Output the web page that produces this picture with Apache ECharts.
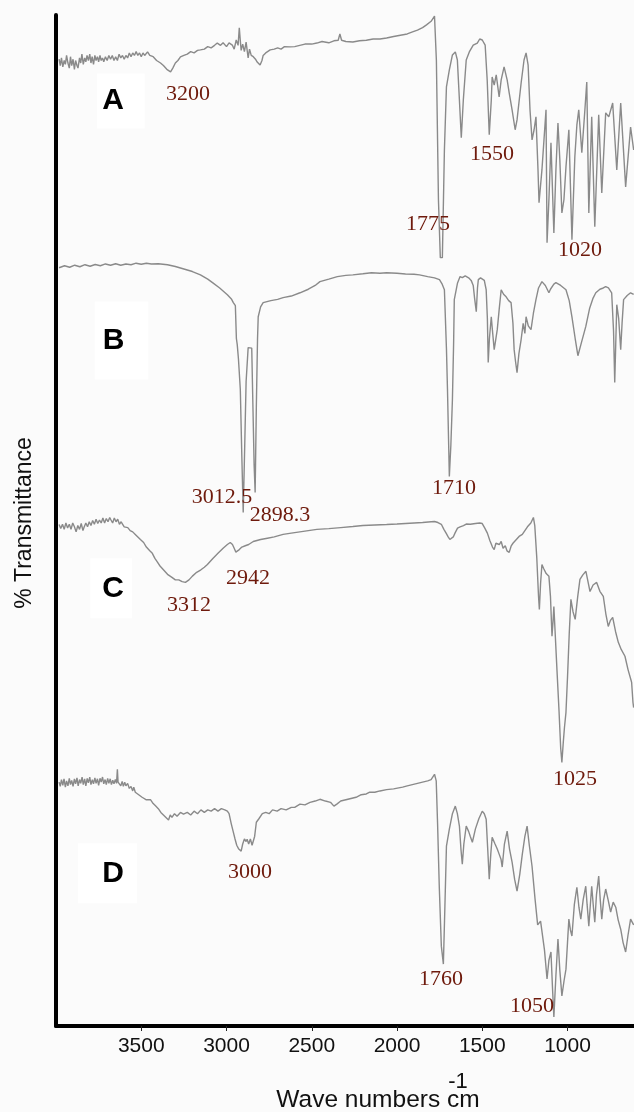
<!DOCTYPE html>
<html>
<head>
<meta charset="utf-8">
<script src="https://cdn.jsdelivr.net/npm/echarts@6/dist/echarts.min.js"></script>
<style>
html,body{margin:0;padding:0;background:#fbfbfb;}
#chart{width:634px;height:1112px;}
</style>
</head>
<body>
<div id="chart"></div>
<script>
// ---- data: [wavenumber (cm-1), transmittance within panel (0-100)] ----
const wavenumberTicks = [1000, 1500, 2000, 2500, 3000, 3500];
const panelNames = ['A', 'B', 'C', 'D'];
const panelOffsets = [75, 50, 25, 0];

const spectrumA = [[3982,82.5],[3975,80],[3968,83],[3960,79.5],[3952,82],[3945,80.5],[3938,84],[3930,81],[3922,79],[3915,83.5],[3908,80],[3900,82.5],[3892,78.5],[3885,82],[3877,80],[3871,79],[3862,83],[3855,81],[3848,84.5],[3840,80.5],[3832,83],[3825,81.5],[3818,84],[3810,82],[3802,84.5],[3795,81],[3788,83.5],[3780,80.5],[3772,84],[3765,82],[3757,83.5],[3750,81.5],[3742,84],[3735,82],[3727,83],[3720,81.5],[3710,83.5],[3700,82],[3690,84],[3680,82.5],[3670,84],[3660,82],[3650,83.5],[3640,82],[3630,84.5],[3620,83],[3610,84],[3600,82.5],[3590,84],[3580,83],[3570,85],[3560,83.5],[3550,85],[3540,84],[3530,85.5],[3520,84],[3510,85],[3500,83.5],[3490,85],[3480,84],[3463,85.4],[3450,84],[3430,83.5],[3410,82],[3387,81],[3370,80],[3350,78.5],[3328,77.5],[3315,79],[3300,81],[3285,82],[3270,83.4],[3250,84],[3230,84.5],[3210,85.5],[3190,85],[3170,86],[3153,86.2],[3130,86.5],[3110,87.5],[3090,87],[3070,88],[3054,88.9],[3035,88],[3020,89],[3000,87.5],[2985,89],[2966,88.1],[2955,86.5],[2943,90.1],[2932,88],[2925,94.9],[2918,89],[2914,86],[2905,88.5],[2895,85.5],[2885,89.3],[2873,83],[2865,86.5],[2855,84],[2843,83.5],[2830,82.5],[2820,81.4],[2803,80.2],[2792,82],[2785,84],[2770,85],[2744,86.2],[2720,86.5],[2700,87],[2680,86.5],[2660,87.5],[2627,87.4],[2600,87.5],[2570,88],[2540,88.5],[2500,88.5],[2470,88.9],[2440,89.5],[2400,89],[2370,89.8],[2345,90],[2335,92.5],[2325,90],[2300,89.5],[2259,89.3],[2220,89.8],[2180,90],[2140,90.5],[2100,90.5],[2061,90.9],[2020,91.5],[1980,92],[1940,92.5],[1909,93.3],[1880,94],[1850,95],[1827,96.1],[1800,97.5],[1780,99.6],[1769,82],[1757,27],[1746,4],[1734,4],[1722,46.6],[1710,71.6],[1693,78.3],[1675,84.2],[1658,85.4],[1646,82.2],[1634,66.4],[1623,51.4],[1611,66.4],[1594,82.2],[1576,85.4],[1553,88.1],[1529,88.9],[1515,90.5],[1500,90.1],[1483,88.1],[1471,74.3],[1459,52.6],[1447,66.4],[1442,75.5],[1430,72.3],[1418,76.3],[1401,67.6],[1389,74.3],[1372,79.5],[1354,74.3],[1342,69.2],[1325,62.5],[1307,54.6],[1296,58.5],[1272,73.1],[1255,82.2],[1243,85],[1231,80.2],[1220,62.5],[1208,50.6],[1196,54.6],[1185,59.7],[1173,38.7],[1167,25.7],[1150,38.7],[1138,50.6],[1126,62.5],[1120,9.9],[1109,27],[1097,49.4],[1080,13.8],[1068,38.7],[1056,57.3],[1045,42.7],[1033,21.7],[1021,26.9],[1009,39.9],[992,54.6],[974,11.1],[957,43.9],[945,56.5],[934,62.5],[916,45.5],[898,62.5],[887,73.5],[875,21.7],[858,59.7],[840,16.2],[817,60.5],[799,29.6],[776,61.3],[758,59.7],[735,65.2],[711,38.7],[688,65.2],[659,32],[630,55.7],[612,46.6]];

const spectrumB = [[3982,100],[3950,100.8],[3920,100.2],[3890,101],[3860,100.4],[3830,101.2],[3800,100.6],[3770,101.3],[3740,100.8],[3710,101.5],[3680,101],[3650,101.6],[3620,101],[3590,101.5],[3560,101.2],[3530,101.8],[3500,101.4],[3470,101.8],[3440,101.5],[3400,101.6],[3346,101.2],[3300,100.5],[3250,99.5],[3200,98.5],[3153,97.2],[3110,95.5],[3080,94],[3040,92],[2995,89.3],[2970,87.5],[2960,86.2],[2948,85],[2942,72],[2937,69.6],[2930,64],[2919,51.8],[2910,25],[2902,3.2],[2893,30],[2885,55],[2873,68.4],[2862,68.8],[2852,68.2],[2845,45],[2838,22],[2832,11.1],[2825,45],[2818,72],[2814,80.6],[2800,84.5],[2785,86.2],[2740,87],[2700,87.5],[2668,88.2],[2620,88.8],[2569,90.1],[2520,91.5],[2480,93],[2452,94.5],[2400,95.5],[2350,96.5],[2300,97],[2259,97.2],[2200,97.6],[2150,98],[2100,97.8],[2061,98],[2000,97.8],[1950,97.5],[1900,97.4],[1868,97.2],[1820,96.5],[1780,96],[1751,95.3],[1735,93.5],[1722,91.3],[1710,68],[1704,52],[1697,30],[1693,17.4],[1684,30],[1675,47.8],[1668,70],[1664,87.4],[1645,94],[1630,96.5],[1617,96.1],[1600,96.8],[1580,96],[1565,95],[1553,93],[1545,88],[1535,82.6],[1528,92],[1523,95.3],[1510,96],[1500,96.5],[1488,95],[1477,91.3],[1470,80],[1465,62.5],[1458,72],[1447,80.6],[1440,75],[1430,67.6],[1420,72],[1412,75.5],[1400,84],[1389,91.3],[1375,89.5],[1360,88.5],[1345,87],[1331,86.2],[1320,78],[1313,67.6],[1305,63],[1296,58.5],[1285,66],[1272,71.6],[1260,78],[1250,74],[1243,80.6],[1230,77],[1214,75.5],[1200,82],[1185,87.4],[1170,92],[1150,94.5],[1130,93],[1109,90.1],[1100,91.5],[1080,93.5],[1068,94.1],[1040,93],[1009,91.3],[990,87],[974,80.6],[955,72],[939,65.2],[920,70],[893,76.7],[870,84],[850,88],[834,90.1],[810,91.5],[790,92],[776,92.5],[760,92],[741,90.1],[730,75],[723,54.6],[717,70],[711,85.4],[700,80],[688,67.6],[680,78],[671,87.4],[650,89],[630,90.1],[612,89.5]];

const spectrumC = [[3982,98.4],[3972,96.8],[3962,98.5],[3952,96.5],[3942,99],[3932,97],[3922,98.5],[3912,96.5],[3902,99],[3892,97.5],[3882,95.5],[3872,98],[3862,96.5],[3852,98.8],[3842,96],[3836,97.2],[3825,99],[3815,97.5],[3805,99.5],[3795,98],[3785,100],[3775,98.5],[3765,100.5],[3755,98.8],[3745,100.2],[3735,99],[3725,101],[3715,99],[3705,100.8],[3695,99.5],[3685,101.2],[3679,100.4],[3668,99],[3658,101],[3648,99.5],[3638,100.5],[3628,98.5],[3618,99.5],[3600,97.5],[3579,97.2],[3565,96],[3550,95.5],[3535,94.5],[3520,93.5],[3505,92.5],[3486,91.3],[3470,89.5],[3450,88],[3435,87],[3420,85],[3405,83.5],[3390,82],[3370,80.5],[3346,78.7],[3320,77.5],[3300,76.5],[3280,76.5],[3260,75.8],[3241,75.5],[3220,76.5],[3200,78],[3175,79.5],[3150,80.5],[3130,81.5],[3112,82.6],[3080,85],[3050,87],[3020,89],[2995,90.5],[2978,91.3],[2965,90.5],[2955,89],[2945,87.5],[2935,87],[2925,88.5],[2910,89.5],[2890,90],[2870,90.5],[2843,91.7],[2800,92.5],[2760,93],[2720,93.5],[2668,94.5],[2620,95],[2570,95.5],[2520,96],[2470,96.5],[2400,96.8],[2330,97.2],[2259,97.6],[2200,98],[2130,98.2],[2061,98.4],[2000,98.6],[1950,98.8],[1900,99],[1850,99.2],[1800,99.5],[1780,99.6],[1760,99.2],[1740,98.5],[1725,96.5],[1712,95],[1700,93.5],[1690,92.5],[1682,92],[1670,93.5],[1660,95],[1645,97],[1630,97.5],[1610,98],[1594,98.6],[1570,98.5],[1540,98.8],[1515,99],[1500,98.8],[1485,97],[1470,95],[1455,92],[1440,89.5],[1430,88.5],[1420,91],[1410,91.7],[1400,90.5],[1389,91.7],[1378,89],[1365,90],[1355,88],[1342,87.4],[1330,90],[1320,91],[1300,92.5],[1284,93.7],[1265,94.5],[1250,96],[1235,97.5],[1215,99],[1200,101.2],[1192,98],[1180,85],[1170,70],[1165,64.8],[1158,75],[1150,82.6],[1140,81],[1125,79],[1109,77.9],[1100,70],[1091,54.2],[1085,60],[1080,66],[1072,55],[1062,41.1],[1050,25],[1040,10],[1033,4.3],[1025,12],[1018,18],[1009,24.1],[1000,38],[990,55],[980,68.8],[968,64],[955,60.9],[940,70],[927,76.7],[910,78.5],[892,79.9],[868,71.9],[850,74.5],[829,75.5],[810,72],[790,70],[775,63],[761,58.1],[748,60.5],[735,61.7],[718,56],[702,51.8],[685,49],[663,46.3],[645,41],[624,36],[616,28],[612,26]];

const spectrumD = [[3982,96.5],[3975,94.8],[3968,97.5],[3960,95.2],[3953,97.8],[3945,94.5],[3938,97],[3930,95],[3922,98],[3915,95.5],[3908,97.2],[3900,94.8],[3892,97.8],[3885,95.8],[3877,98.2],[3870,95],[3862,97.5],[3855,96],[3847,98.5],[3840,95.5],[3832,97.8],[3825,95],[3817,98],[3810,96.2],[3802,98.5],[3795,95.5],[3787,97.5],[3780,95.8],[3772,98.2],[3765,96],[3757,97.8],[3750,95.2],[3742,98],[3735,96.5],[3727,98.5],[3720,95.8],[3712,97.5],[3705,95.5],[3697,98],[3690,96],[3682,97.8],[3675,95.5],[3667,97.2],[3660,95.8],[3652,97.5],[3645,96],[3640,101.6],[3636,96.5],[3628,97],[3620,95],[3612,96.8],[3605,94.8],[3597,96.5],[3590,95],[3580,96],[3570,94],[3560,94.8],[3550,93],[3544,94.5],[3535,92.5],[3525,93],[3515,91.5],[3505,92],[3495,90.5],[3485,91],[3470,89.5],[3460,90],[3445,89.5],[3430,88],[3415,87],[3400,86],[3385,84.5],[3370,83.5],[3355,82.5],[3340,81.5],[3330,83.5],[3320,82.5],[3305,84],[3290,83],[3270,84.5],[3252,83.8],[3230,84.5],[3210,83.5],[3190,85],[3170,84],[3150,85.5],[3130,84.5],[3110,85.5],[3090,85],[3070,86],[3050,85],[3030,86],[3010,85.5],[2995,85],[2985,84],[2972,80],[2960,76.7],[2950,74],[2940,71.5],[2928,70],[2914,69.2],[2905,72],[2895,74],[2885,73],[2879,73.9],[2870,72],[2860,74],[2850,71.5],[2843,71.9],[2835,75],[2825,80.6],[2810,82],[2790,84],[2770,84.5],[2750,84],[2730,85.5],[2703,85],[2680,86],[2650,85.5],[2620,86.5],[2600,86.5],[2569,87.8],[2540,87.5],[2510,88.5],[2480,89],[2452,89.7],[2420,89],[2390,88.5],[2370,87],[2353,87.8],[2330,89],[2300,89.5],[2270,90],[2240,90.5],[2210,91.5],[2180,91.8],[2160,92.5],[2130,92.5],[2100,93],[2061,93.5],[2020,93.8],[1990,94.2],[1967,94.5],[1940,95],[1910,95.5],[1880,96],[1850,96.5],[1820,97],[1800,97.5],[1780,99.6],[1770,97],[1762,80],[1752,55],[1740,31.6],[1728,24.5],[1720,45],[1710,71.2],[1693,77.9],[1675,84],[1658,87],[1646,84],[1634,79.1],[1625,70],[1617,64],[1608,72],[1594,79.1],[1580,77],[1570,75],[1558,72.7],[1540,78],[1520,82],[1500,85],[1488,84],[1477,81.8],[1468,70],[1459,58.1],[1450,68],[1442,74.7],[1425,72],[1412,70],[1401,68],[1390,66],[1383,62.9],[1370,72],[1354,77.1],[1340,70],[1325,64.8],[1310,58],[1296,53.4],[1280,60],[1265,68],[1250,75],[1237,79.1],[1225,72],[1208,63.2],[1190,50],[1175,40],[1167,39.5],[1158,41.5],[1150,41.1],[1135,30],[1120,18.6],[1109,26],[1097,29.3],[1088,15],[1080,3.6],[1068,20],[1056,34.4],[1045,22],[1033,11.9],[1020,18],[1009,22.5],[1000,33],[992,42.3],[983,38],[974,35.6],[960,48],[945,54.9],[933,47],[922,42.3],[908,50],[893,55.3],[885,48],[875,39.5],[866,48],[858,55.3],[848,47],[840,41.1],[830,52],[817,59.3],[808,50],[799,42.3],[788,50],[776,54.2],[762,50],[747,45.1],[732,49],[717,47],[703,42],[688,38.3],[674,33],[659,29.3],[645,36],[630,42.3],[612,40]];

// peak annotations: [text, wavenumber anchor, vertical anchor on the stacked scale]
const peakLabels = [
  ['3200', 3226, 92.2], ['1550', 1443, 86.2], ['1775', 1818, 79.3], ['1020', 927, 76.7],
  ['3012.5', 3026, 52.3], ['2898.3', 2686, 50.5], ['1710', 1666, 53.2],
  ['2942', 2874, 44.3], ['3312', 3220, 41.6], ['1025', 956, 24.4],
  ['3000', 2862, 15.2], ['1760', 1742, 4.6], ['1050', 1208, 2.0]
];
// panel letter anchors (centre of the white box behind each letter)
const letterAnchors = [[3619, 91.5], [3616, 67.8], [3677, 43.3], [3698, 15.1]];
const letterPadding = [[0, 21, 25, 5], [12, 24, 36, 8], [11, 8, 19, 12], [16, 13, 14, 24]];

const spectra = [spectrumA, spectrumB, spectrumC, spectrumD];

const chart = echarts.init(document.getElementById('chart'), null, {renderer: 'canvas'});

const series = spectra.map((s, i) => ({
  type: 'line',
  name: panelNames[i],
  data: s.map(p => [p[0], panelOffsets[i] + p[1] / 4]),
  showSymbol: false,
  symbol: 'none',
  smooth: false,
  lineStyle: {color: '#8a8a8a', width: 1.4, opacity: 1},
  z: 3,
  silent: true
}));

series.push({
  type: 'scatter',
  name: 'letters',
  symbolSize: 0,
  z: 2,
  silent: true,
  itemStyle: {opacity: 1},
  data: letterAnchors.map((a, i) => ({
    value: a,
    label: {
      show: true,
      position: 'inside',
      formatter: panelNames[i],
      fontFamily: 'Liberation Sans, Arial, sans-serif',
      fontWeight: 'bold',
      fontSize: 30,
      lineHeight: 30,
      color: '#000000',
      opacity: 1,
      textBorderWidth: 0,
      backgroundColor: '#ffffff',
      padding: letterPadding[i]
    }
  }))
});

series.push({
  type: 'scatter',
  name: 'peaks',
  symbolSize: 0,
  z: 4,
  silent: true,
  itemStyle: {opacity: 1},
  data: peakLabels.map(p => ({
    value: [p[1], p[2]],
    label: {
      show: true,
      position: 'inside',
      formatter: p[0],
      fontFamily: 'Liberation Serif, Times New Roman, serif',
      fontSize: 22,
      opacity: 1,
      textBorderWidth: 0,
      color: '#6e1a0c'
    }
  }))
});

const option = {
  animation: false,
  backgroundColor: '#fbfbfb',
  grid: {left: 56, right: 0, top: 15, bottom: 86, containLabel: false},
  xAxis: {
    type: 'value',
    inverse: true,
    min: 610,
    max: 4000,
    axisLine: {show: true, onZero: false, lineStyle: {color: '#000', width: 4}},
    axisTick: {show: true, length: 5, customValues: wavenumberTicks, lineStyle: {color: '#222', width: 1}},
    axisLabel: {
      show: true, customValues: wavenumberTicks, margin: 10,
      formatter: v => String(v),
      fontFamily: 'Liberation Sans, Arial, sans-serif', fontSize: 21, color: '#111'
    },
    splitLine: {show: false}
  },
  yAxis: {
    type: 'value',
    min: 0,
    max: 100,
    axisLine: {show: true, onZero: false, lineStyle: {color: '#000', width: 4}},
    axisTick: {show: false},
    axisLabel: {show: false},
    splitLine: {show: false}
  },
  graphic: [
    {
      type: 'text', x: 25, y: 523, rotation: Math.PI / 2,
      style: {text: '% Transmittance', font: '23px "Liberation Sans", Arial, sans-serif',
        fill: '#111', textAlign: 'center', textVerticalAlign: 'middle'}
    },
    {
      type: 'text', x: 378, y: 1100,
      style: {text: 'Wave numbers cm', font: '24.5px "Liberation Sans", Arial, sans-serif',
        fill: '#111', textAlign: 'center', textVerticalAlign: 'middle'}
    },
    {
      type: 'text', x: 458, y: 1082,
      style: {text: '-1', font: '22px "Liberation Sans", Arial, sans-serif',
        fill: '#111', textAlign: 'center', textVerticalAlign: 'middle'}
    }
  ],
  series: series
};

chart.setOption(option);
</script>
</body>
</html>
